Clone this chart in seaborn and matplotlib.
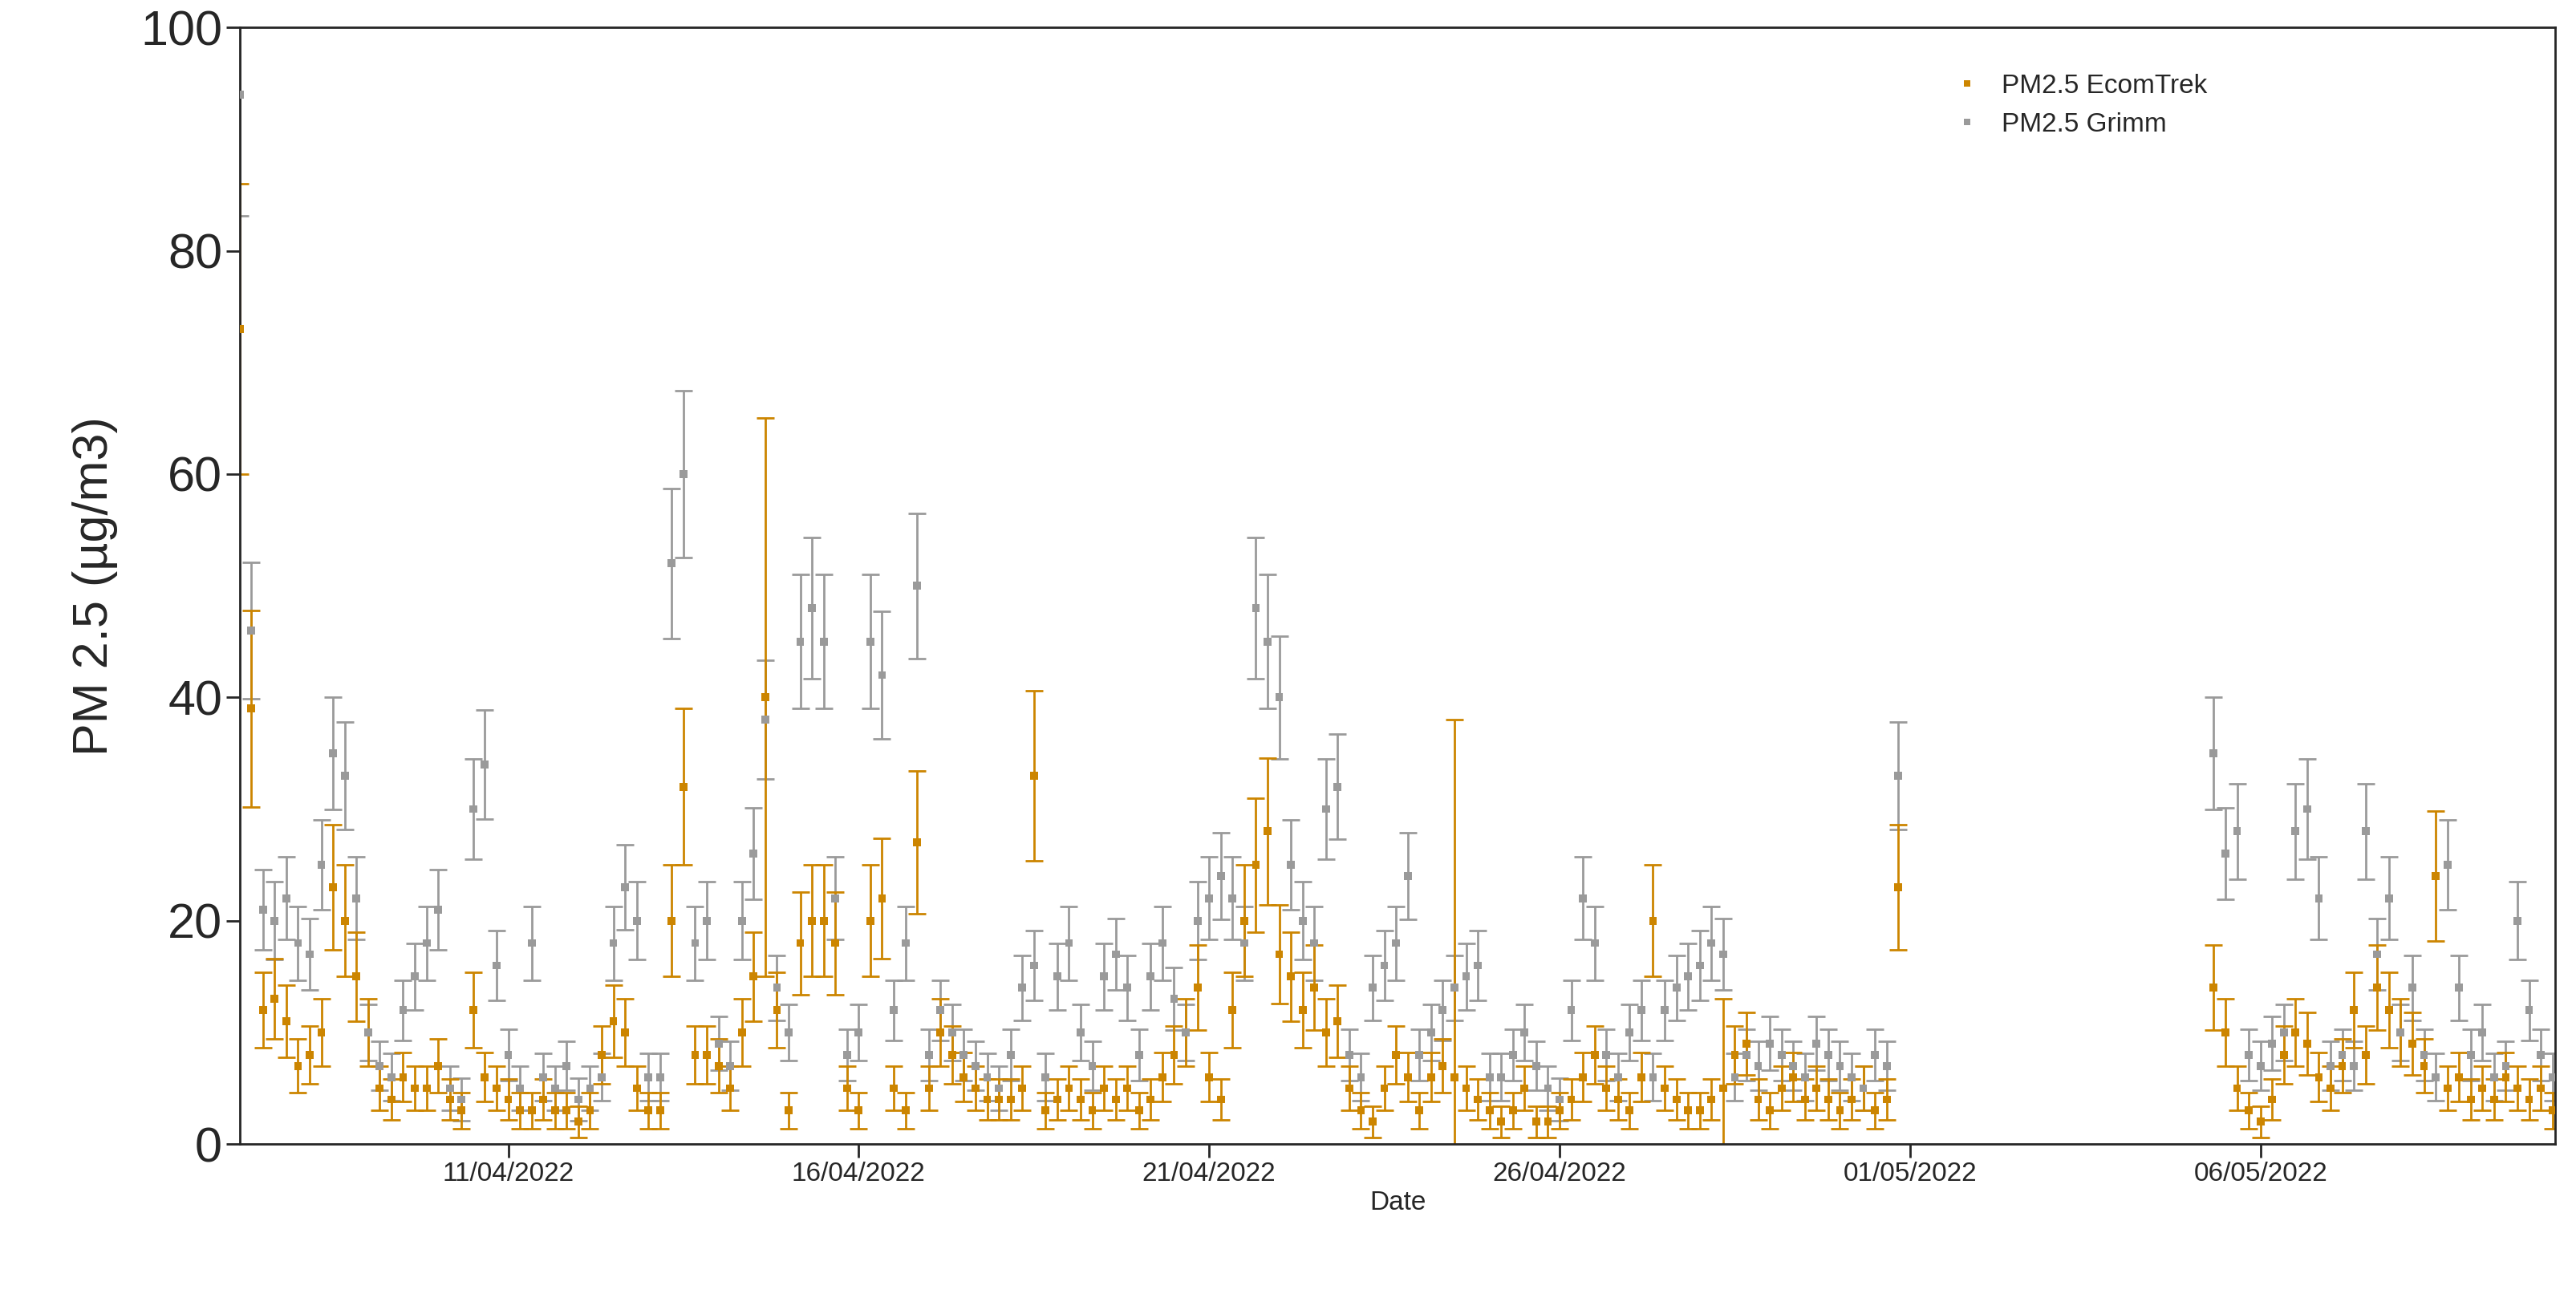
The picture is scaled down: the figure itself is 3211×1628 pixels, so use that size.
import numpy as np
import pandas as pd
import matplotlib.pyplot as plt
import matplotlib.dates as mdates
import seaborn as sns

# 4-hourly readings, 07/04/2022 04:00 .. 10/05/2022 00:00 (nan = no data)
grimm_apr = [94,46,21,20,22,18, 17,25,35,33,22,10, 7,6,12,15,18,21, 5,4,30,34,16,8,
             5,18,6,5,7,4, 5,6,18,23,20,6, 6,52,60,18,20,9, 7,20,26,38,14,10,
             45,48,45,22,8,10, 45,42,12,18,50,8, 12,10,8,7,6,5, 8,14,16,6,15,18,
             10,7,15,17,14,8, 15,18,13,10,20,22, 24,22,18,48,45,40, 25,20,18,30,32,8,
             6,14,16,18,24,8, 10,12,14,15,16,6, 6,8,10,7,5,4, 12,22,18,8,6,10,
             12,6,12,14,15,16, 18,17,6,8,7,9, 8,7,6,9,8,7, 6,5,8,7,33,np.nan]
grimm_gap = [np.nan] * 24
grimm_may = [np.nan,35,26,28,8,7, 9,10,28,30,22,7, 8,7,28,17,22,10,
             14,8,6,25,14,8, 10,6,7,20,12,8, 6,14,28,22,10,22]

ecom_apr = [73,39,12,13,11,7, 8,10,23,20,15,10, 5,4,6,5,5,7, 4,3,12,6,5,4,
            3,3,4,3,3,2, 3,8,11,10,5,3, 3,20,32,8,8,7, 5,10,15,40,12,3,
            18,20,20,18,5,3, 20,22,5,3,27,5, 10,8,6,5,4,4, 4,5,33,3,4,5,
            4,3,5,4,5,3, 4,6,8,10,14,6, 4,12,20,25,28,17, 15,12,14,10,11,5,
            3,2,5,8,6,3, 6,7,6,5,4,3, 2,3,5,2,2,3, 4,6,8,5,4,3,
            6,20,5,4,3,3, 4,5,8,9,4,3, 5,6,4,5,4,3, 4,5,3,4,23,np.nan]
ecom_gap = [np.nan] * 24
ecom_may = [np.nan,14,10,5,3,2, 4,8,10,9,6,5, 7,12,8,14,12,10,
            9,7,24,5,6,4, 5,4,6,5,4,5, 3,4,6,9,10,8]

# uncertainty: relative part, plus a few wide bars seen on the chart
grimm_rel, grimm_abs = 0.10, 1.5
ecom_rel, ecom_abs = 0.20, 1.0
ecom_big_err = {45: 25, 104: 32, 127: 8, 38: 7, 152: 10, 0: 13}

grimm = np.array(grimm_apr + grimm_gap + grimm_may, dtype=float)
ecom = np.array(ecom_apr + ecom_gap + ecom_may, dtype=float)
times = pd.date_range("2022-04-07 04:00", periods=len(grimm), freq="4h")

grimm_err = grimm * grimm_rel + grimm_abs
ecom_err = ecom * ecom_rel + ecom_abs
for i, e in ecom_big_err.items():
    ecom_err[i] = e

df = pd.concat([
    pd.DataFrame({"Date": times, "PM": ecom, "err": ecom_err, "series": "PM2.5 EcomTrek"}),
    pd.DataFrame({"Date": times, "PM": grimm, "err": grimm_err, "series": "PM2.5 Grimm"}),
]).dropna()

colors = {"PM2.5 EcomTrek": "#CC8500", "PM2.5 Grimm": "#9A9A9A"}

sns.set_style("ticks")
plt.rcParams["font.family"] = "Liberation Sans"
fig = plt.figure(figsize=(32.11, 16.28), dpi=100)
ax = fig.add_axes([0.093, 0.124, 0.899, 0.855])

for name in ["PM2.5 Grimm", "PM2.5 EcomTrek"]:
    d = df[df.series == name]
    ax.errorbar(d.Date, d.PM, yerr=d.err, fmt="none", ecolor=colors[name],
                elinewidth=2, capsize=8, capthick=2, zorder=2)
sns.scatterplot(data=df, x="Date", y="PM", hue="series", palette=colors,
                hue_order=["PM2.5 EcomTrek", "PM2.5 Grimm"], marker="s", s=50,
                linewidth=0, ax=ax, zorder=3)

ax.set_xlim(pd.Timestamp("2022-04-07 04:00"), pd.Timestamp("2022-05-10 05:00"))
ax.set_ylim(0, 100)
ax.set_yticks([0, 20, 40, 60, 80, 100])
ax.xaxis.set_major_locator(mdates.DayLocator(bymonthday=[1, 6, 11, 16, 21, 26]))
ax.xaxis.set_major_formatter(mdates.DateFormatter("%d/%m/%Y"))
ax.tick_params(axis="y", labelsize=44, length=12, width=2)
ax.tick_params(axis="x", labelsize=24, length=12, width=2)
ax.set_xlabel("Date", fontsize=24)
ax.set_ylabel("PM 2.5 (µg/m3)", fontsize=44, labelpad=20)
for s in ax.spines.values():
    s.set_linewidth(2)
ax.legend(loc="upper right", bbox_to_anchor=(0.86, 0.98), frameon=False,
          fontsize=24, markerscale=0.8, handletextpad=0.3)
fig.savefig("out.png", dpi=100)
